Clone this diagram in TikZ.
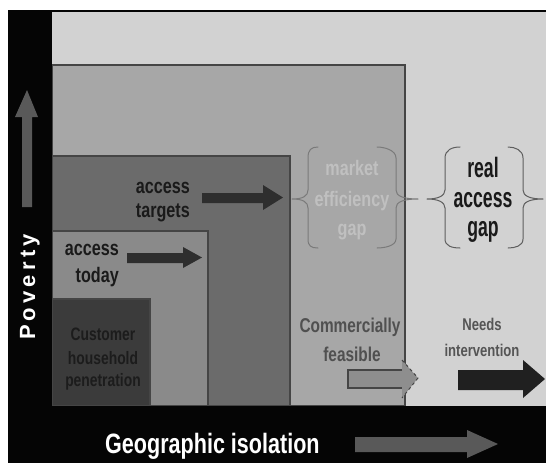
\documentclass[tikz,border=0pt]{standalone}
\usepackage{fontspec}
\setmainfont{Liberation Sans}
\newfontfamily\narA[FakeStretch=0.77]{Liberation Sans}
\newfontfamily\narB[FakeStretch=0.63]{Liberation Sans}
\newfontfamily\povfont[LetterSpace=19]{Liberation Sans}
\definecolor{frameblack}{HTML}{050505}
\definecolor{bglight}{HTML}{D2D2D2}
\definecolor{midgray}{HTML}{A7A7A7}
\definecolor{targetgray}{HTML}{6B6B6B}
\definecolor{todaygray}{HTML}{8A8A8A}
\definecolor{custgray}{HTML}{3B3B3B}
\definecolor{edgegray}{HTML}{454545}
\definecolor{arrowdark}{HTML}{2E2E2E}
\definecolor{axisarrow}{HTML}{595959}
\definecolor{textdark}{HTML}{1A1A1A}
\definecolor{custtext}{HTML}{1C1C1C}
\definecolor{mktext}{HTML}{C0C0C0}
\definecolor{realtext}{HTML}{1A1A1A}
\definecolor{cftext}{HTML}{505050}
\definecolor{nitext}{HTML}{555555}
\definecolor{mkbrace}{HTML}{7A7A7A}
\definecolor{rabrace}{HTML}{5E5E5E}
\definecolor{cfarrow}{HTML}{8E8E8E}
\definecolor{niarrow}{HTML}{202020}
\definecolor{pagewhite}{HTML}{FFFFFF}
\begin{document}
\begin{tikzpicture}[x=1pt,y=-1pt,
  region/.style={draw=edgegray,line width=1.2pt},
  lbl/.style={inner sep=0pt,anchor=base},
  lblR/.style={inner sep=0pt,anchor=base east},
  bracestyle/.style={line width=1pt,line cap=round,line join=round}]
\useasboundingbox (0,0) rectangle (546,463);
\fill[pagewhite] (0,0) rectangle (546,463);
% regions
\fill[bglight] (52,12) rectangle (546,406);
\filldraw[region,fill=midgray] (52,65) rectangle (405,406);
\filldraw[region,fill=targetgray] (52,156) rectangle (290,406);
\filldraw[region,fill=todaygray] (52,231) rectangle (208,406);
\filldraw[region,fill=custgray] (52,299) rectangle (150,406);
% black frame
\fill[frameblack] (8,10) rectangle (52,463);
\fill[frameblack] (8,10) rectangle (546,12);
\fill[frameblack] (8,406) rectangle (546,463);
% poverty axis arrow
\fill[axisarrow] (22,207) -- (22,117) -- (15,117) -- (27,90) -- (38,117) -- (32,117) -- (32,207) -- cycle;
\node[inner sep=0pt,anchor=base,rotate=90,text=pagewhite,font=\povfont\bfseries\fontsize{22}{26}\selectfont] (pov) at (35,287) {Poverty};
% geographic isolation
\node[inner sep=0pt,anchor=base west,text=pagewhite,font=\narA\bfseries\fontsize{28}{32}\selectfont] (geo) at (105,453) {Geographic isolation};
\fill[axisarrow] (355,437) -- (467,437) -- (467,430) -- (498,444) -- (467,458) -- (467,452) -- (355,452) -- cycle;
% access targets / today
\begin{scope}[every node/.append style={text=textdark,font=\narA\bfseries\fontsize{21}{23}\selectfont}]
\node[lblR] (tgt1) at (190,193) {access};
\node[lblR] (tgt2) at (190,217) {targets};
\node[lblR] (tod1) at (119,255) {access};
\node[lblR] (tod2) at (119,282) {today};
\end{scope}
\fill[arrowdark] (202,193) -- (263,193) -- (263,185) -- (283,197.5) -- (263,210) -- (263,203) -- (202,203) -- cycle;
\fill[arrowdark] (127,253) -- (183,253) -- (183,247) -- (202,257.5) -- (183,268) -- (183,263) -- (127,263) -- cycle;
% customer household penetration
\begin{scope}[every node/.append style={text=custtext,font=\narA\bfseries\fontsize{18}{21}\selectfont}]
\node[lbl] (cus1) at (103,340) {Customer};
\node[lbl] (cus2) at (103,364) {household};
\node[lbl] (cus3) at (103,386) {penetration};
\end{scope}
% market efficiency gap
\draw[bracestyle,draw=mkbrace] (318,147) .. controls (311,147) and (308,150) .. (308,158) -- (308,190) .. controls (308,196) and (303,199) .. (292,199) .. controls (303,199) and (308,202) .. (308,208) -- (308,239) .. controls (308,246) and (311,248) .. (318,248);
\draw[bracestyle,draw=mkbrace] (377,147) .. controls (384,147) and (396,150) .. (396,158) -- (396,190) .. controls (396,196) and (403,199) .. (418,199) .. controls (403,199) and (396,202) .. (396,208) -- (396,239) .. controls (396,246) and (384,248) .. (377,248);
\begin{scope}[every node/.append style={text=mktext,font=\narA\bfseries\fontsize{21}{24}\selectfont}]
\node[lbl] (mk1) at (352,175) {market};
\node[lbl] (mk2) at (352,206) {efficiency};
\node[lbl] (mk3) at (352,235) {gap};
\end{scope}
% real access gap
\draw[bracestyle,draw=rabrace] (460,147) .. controls (452,147) and (445,150) .. (445,158) -- (445,190) .. controls (445,196) and (438,199) .. (427,199) .. controls (438,199) and (445,202) .. (445,208) -- (445,239) .. controls (445,246) and (452,248) .. (460,248);
\draw[bracestyle,draw=rabrace] (508,147) .. controls (515,147) and (523,150) .. (523,158) -- (523,190) .. controls (523,196) and (530,199) .. (543,199) .. controls (530,199) and (523,202) .. (523,208) -- (523,239) .. controls (523,246) and (515,248) .. (508,248);
\begin{scope}[every node/.append style={text=realtext,font=\narB\bfseries\fontsize{28}{30}\selectfont}]
\node[lbl] (ra1) at (483,177) {real};
\node[lbl] (ra2) at (483,207) {access};
\node[lbl] (ra3) at (483,236) {gap};
\end{scope}
% commercially feasible
\begin{scope}[every node/.append style={text=cftext,font=\narA\bfseries\fontsize{20}{23}\selectfont}]
\node[lbl] (cf1) at (350,332) {Commercially};
\node[lbl] (cf2) at (352,361) {feasible};
\end{scope}
\fill[cfarrow] (348,370) -- (402,370) -- (402,360) -- (418,378) -- (402,398) -- (402,388) -- (348,388) -- cycle;
\draw[edgegray,line width=1.2pt] (402,370) -- (348,370) -- (348,388) -- (402,388);
\draw[edgegray,line width=1pt,dashed] (402,360) -- (418,378) -- (402,398);
% needs intervention
\begin{scope}[every node/.append style={text=nitext,font=\narA\bfseries\fontsize{17}{20}\selectfont}]
\node[lbl] (ni1) at (482,330) {Needs};
\node[lbl] (ni2) at (482,356) {intervention};
\end{scope}
\fill[niarrow] (458,370) -- (523,370) -- (523,360) -- (545,379) -- (523,398) -- (523,390) -- (458,390) -- cycle;
\end{tikzpicture}
\end{document}
